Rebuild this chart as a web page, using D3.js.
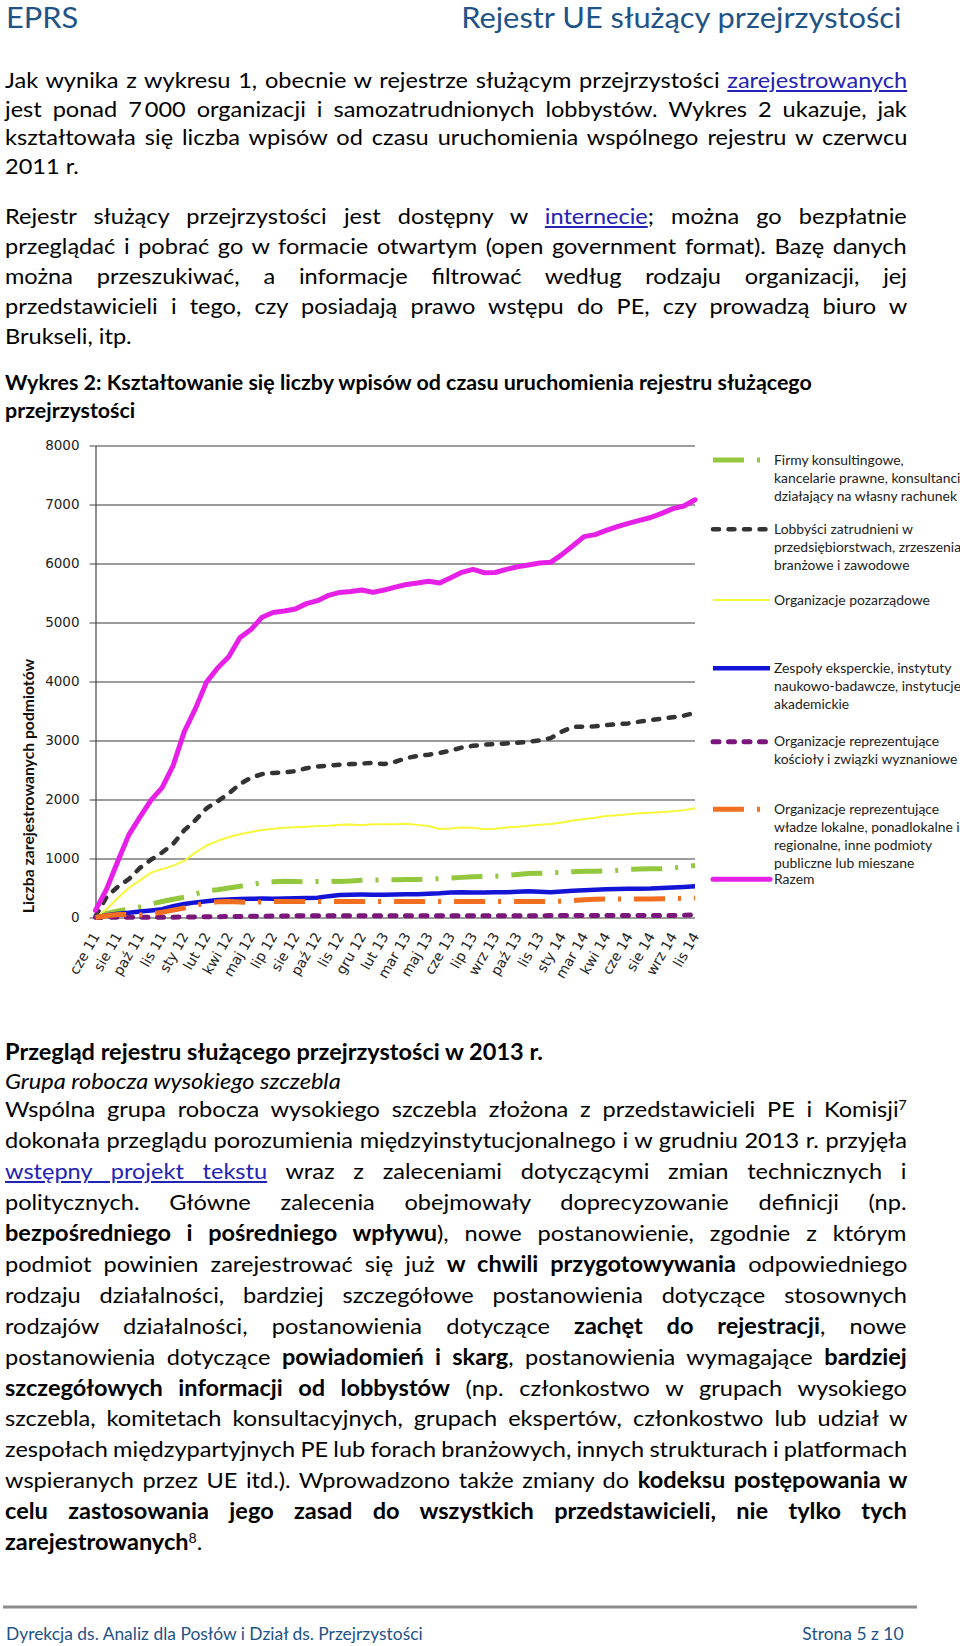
<!DOCTYPE html>
<html>
<head>
<meta charset="utf-8">
<script src="https://cdn.jsdelivr.net/npm/d3@7"></script>
<style>
  html, body { margin: 0; padding: 0; background: #fff; }
  #page { position: relative; width: 960px; height: 1646px; overflow: hidden;
          font-family: Lato, "Open Sans", sans-serif; color: #000; }
  #chart { position: absolute; left: 0; top: 0; }
  .ln { position: absolute; white-space: nowrap; line-height: 30px; }
  .ln > .inner { display: inline-block; transform-origin: 0 50%; }
  .ln a { color: #2323b4; text-decoration: underline; }
  .ln .sup { position: relative; top: -0.55em; font-size: 0.6em; }
  .bl { display: inline-block; width: 0; height: 0; vertical-align: baseline; }
</style>
</head>
<body>
<div id="page"></div>
<script>
// ---- chart data ----
const monthLabels = ["cze 11", "sie 11", "paź 11", "lis 11", "sty 12", "lut 12", "kwi 12",
  "maj 12", "lip 12", "sie 12", "paź 12", "lis 12", "gru 12", "lut 13", "mar 13", "maj 13",
  "cze 13", "lip 13", "wrz 13", "paź 13", "lis 13", "sty 14", "mar 14", "kwi 14", "cze 14",
  "sie 14", "wrz 14", "lis 14"];
const yTicks = [0, 1000, 2000, 3000, 4000, 5000, 6000, 7000, 8000];
const STEP = 0.5; // two samples per labelled month

const firmy = [0, 70, 110, 140, 180, 230, 270, 310, 345, 400, 450, 470, 500, 530, 560, 590,
  605, 615, 610, 605, 610, 615, 612, 620, 630, 635, 638, 640, 642, 645, 650, 660, 668, 680,
  690, 695, 700, 712, 730, 745, 750, 758, 765, 775, 785, 785, 790, 800, 815, 822, 825, 825,
  840, 860, 880];
const lobbysci = [20, 350, 520, 650, 840, 980, 1100, 1250, 1480, 1650, 1850, 1970, 2100, 2260,
  2370, 2430, 2450, 2460, 2480, 2530, 2560, 2575, 2590, 2600, 2610, 2620, 2600, 2640, 2700,
  2740, 2760, 2790, 2830, 2880, 2910, 2930, 2940, 2950, 2960, 2980, 3000, 3040, 3150, 3230,
  3235, 3240, 3260, 3275, 3290, 3320, 3345, 3370, 3395, 3420, 3470];
const pozarzadowe = [0, 140, 330, 500, 630, 760, 820, 880, 960, 1100, 1220, 1300, 1360, 1410,
  1450, 1485, 1505, 1520, 1530, 1540, 1550, 1555, 1570, 1575, 1565, 1580, 1580, 1580, 1590,
  1570, 1550, 1500, 1510, 1525, 1520, 1495, 1505, 1525, 1540, 1555, 1570, 1585, 1610, 1645,
  1665, 1690, 1720, 1735, 1750, 1765, 1775, 1790, 1800, 1820, 1850];
const zespoly = [0, 40, 65, 80, 100, 120, 140, 190, 230, 256, 275, 295, 305, 312, 318, 320,
  318, 322, 328, 332, 335, 362, 380, 386, 388, 386, 387, 390, 392, 396, 403, 410, 424, 428,
  425, 425, 426, 428, 435, 443, 437, 428, 440, 452, 460, 470, 480, 485, 487, 488, 490, 498,
  508, 518, 528];
const koscioly = [0, 3, 5, 5, 5, 5, 6, 6, 8, 10, 12, 14, 16, 18, 20, 22, 25, 27, 28, 30, 30,
  30, 30, 30, 30, 30, 30, 30, 30, 30, 30, 30, 30, 30, 30, 30, 30, 30, 30, 30, 30, 33, 33, 33,
  33, 33, 33, 33, 33, 33, 33, 33, 33, 40, 45];
const wladze = [0, 30, 50, 50, 45, 60, 90, 125, 160, 210, 240, 265, 270, 262, 258, 265, 272,
  272, 272, 270, 270, 272, 272, 272, 270, 270, 272, 272, 272, 272, 270, 270, 272, 272, 272,
  272, 270, 272, 272, 272, 272, 274, 275, 285, 300, 310, 312, 312, 312, 312, 312, 318, 322,
  326, 330];
const razem = [120, 480, 950, 1400, 1700, 1990, 2200, 2580, 3150, 3540, 3990, 4230, 4420, 4740,
  4880, 5090, 5170, 5195, 5230, 5320, 5370, 5460, 5510, 5525, 5550, 5510, 5550, 5600, 5645,
  5670, 5700, 5670, 5760, 5850, 5900, 5845, 5848, 5900, 5945, 5975, 6008, 6020, 6150, 6300,
  6455, 6490, 6560, 6625, 6680, 6730, 6780, 6850, 6930, 6975, 7080];

const seriesValues = [firmy, lobbysci, pozarzadowe, zespoly, koscioly, wladze, razem];
const legendLabels = [
  ["Firmy konsultingowe,", "kancelarie prawne, konsultanci", "działający na własny rachunek"],
  ["Lobbyści zatrudnieni w", "przedsiębiorstwach, zrzeszenia", "branżowe i zawodowe"],
  ["Organizacje pozarządowe"],
  ["Zespoły eksperckie, instytuty", "naukowo-badawcze, instytucje", "akademickie"],
  ["Organizacje reprezentujące", "kościoły i związki wyznaniowe"],
  ["Organizacje reprezentujące", "władze lokalne, ponadlokalne i", "regionalne, inne podmioty",
   "publiczne lub mieszane"],
  ["Razem"]
];
const yTitle = "Liczba zarejestrowanych podmiotów";

// ---- page text ----
const headerLeft = "EPRS";
const headerRight = "Rejestr UE służący przejrzystości";
const footerLeft = "Dyrekcja ds. Analiz dla Posłów i Dział ds. Przejrzystości";
const footerRight = "Strona 5 z 10";

const para1 = [
  ["Jak wynika z wykresu 1, obecnie w rejestrze służącym przejrzystości <a>zarejestrowanych</a>", true],
  ["jest ponad 7\u2009000 organizacji i samozatrudnionych lobbystów. Wykres 2 ukazuje, jak", true],
  ["kształtowała się liczba wpisów od czasu uruchomienia wspólnego rejestru w czerwcu", true],
  ["2011 r.", false]
];
const para2 = [
  ["Rejestr służący przejrzystości jest dostępny w <a>internecie</a>; można go bezpłatnie", true],
  ["przeglądać i pobrać go w formacie otwartym (open government format). Bazę danych", true],
  ["można przeszukiwać, a informacje filtrować według rodzaju organizacji, jej", true],
  ["przedstawicieli i tego, czy posiadają prawo wstępu do PE, czy prowadzą biuro w", true],
  ["Brukseli, itp.", false]
];
const chartHeading = [
  "Wykres 2: Kształtowanie się liczby wpisów od czasu uruchomienia rejestru służącego",
  "przejrzystości"
];
const section = [
  ["<b>Przegląd rejestru służącego przejrzystości w 2013 r.</b>", false],
  ["<i>Grupa robocza wysokiego szczebla</i>", false],
  ["Wspólna grupa robocza wysokiego szczebla złożona z przedstawicieli PE i Komisji<span class='sup'>7</span>", true],
  ["dokonała przeglądu porozumienia międzyinstytucjonalnego i w grudniu 2013 r. przyjęła", true],
  ["<a>wstępny projekt tekstu</a> wraz z zaleceniami dotyczącymi zmian technicznych i", true],
  ["politycznych. Główne zalecenia obejmowały doprecyzowanie definicji (np.", true],
  ["<b>bezpośredniego i pośredniego wpływu</b>), nowe postanowienie, zgodnie z którym", true],
  ["podmiot powinien zarejestrować się już <b>w chwili przygotowywania</b> odpowiedniego", true],
  ["rodzaju działalności, bardziej szczegółowe postanowienia dotyczące stosownych", true],
  ["rodzajów działalności, postanowienia dotyczące <b>zachęt do rejestracji</b>, nowe", true],
  ["postanowienia dotyczące <b>powiadomień i skarg</b>, postanowienia wymagające <b>bardziej</b>", true],
  ["<b>szczegółowych informacji od lobbystów</b> (np. członkostwo w grupach wysokiego", true],
  ["szczebla, komitetach konsultacyjnych, grupach ekspertów, członkostwo lub udział w", true],
  ["zespołach międzypartyjnych PE lub forach branżowych, innych strukturach i platformach", true],
  ["wspieranych przez UE itd.). Wprowadzono także zmiany do <b>kodeksu postępowania w</b>", true],
  ["<b>celu zastosowania jego zasad do wszystkich przedstawicieli, nie tylko tych</b>", true],
  ["<b>zarejestrowanych</b><span class='sup'>8</span>.", false]
];

const page = d3.select("#page");

// the document font is narrow (Calibri); stretch Lato to its width
const probe = page.append("span")
  .style("font", "bold 22px Lato").style("position", "absolute")
  .style("visibility", "hidden").style("white-space", "nowrap")
  .text("zarejestrowanych");
const k = 183 / probe.node().offsetWidth;
probe.remove();

// ---- chart ----
const svg = page.append("svg").attr("id", "chart").attr("width", 960).attr("height", 1646);

const x = d3.scaleLinear().domain([0, monthLabels.length - 1]).range([95.5, 695]);
const y = d3.scaleLinear().domain([0, 8000]).range([917.5, 445.5]);

// gridlines
svg.append("g")
  .attr("transform", "translate(95.5,0)")
  .call(d3.axisLeft(y).tickValues(yTicks).tickSize(-(695 - 95.5)).tickFormat(""))
  .call(g => g.select(".domain").remove())
  .call(g => g.selectAll("line").attr("stroke", "#3a3a3a").attr("stroke-width", 1.1));

// y axis with labels
svg.append("g")
  .attr("transform", "translate(95.5,0)")
  .call(d3.axisLeft(y).tickValues(yTicks).tickSize(6).tickSizeOuter(0).tickPadding(10).tickFormat(d3.format("d")))
  .call(g => g.select(".domain").attr("stroke", "#444").attr("stroke-width", 1.2))
  .call(g => g.selectAll("line").attr("stroke", "#444"))
  .call(g => g.selectAll("text")
    .attr("fill", "#222")
    .style("font-family", "'DejaVu Sans', Verdana, sans-serif")
    .style("font-size", "13.5px"));

// x axis labels
svg.append("g")
  .attr("transform", "translate(0,917.5)")
  .call(d3.axisBottom(x).tickValues(d3.range(monthLabels.length))
    .tickFormat(i => monthLabels[i]).tickSize(0))
  .call(g => g.select(".domain").remove())
  .call(g => g.selectAll("text")
    .attr("y", 0).attr("dy", "0.35em")
    .attr("transform", "translate(0,16) rotate(-60)")
    .attr("text-anchor", "end")
    .attr("fill", "#222")
    .style("font-family", "'DejaVu Sans', Verdana, sans-serif")
    .style("font-size", "14px"));

// y axis title
svg.append("text")
  .attr("transform", `translate(34,786) rotate(-90) scale(${k},1)`)
  .attr("text-anchor", "middle")
  .style("font-family", "Lato, sans-serif")
  .style("font-weight", "bold")
  .style("font-size", "14.7px")
  .attr("fill", "#111")
  .text(yTitle);

const seriesStyle = [
  { color: "#93c83e", width: 5, dash: "31,13,3,13", cap: "butt" },
  { color: "#333333", width: 4.5, dash: "6,9.5", cap: "round" },
  { color: "#f7f73a", width: 2, dash: null, cap: "butt" },
  { color: "#1414d6", width: 4.5, dash: null, cap: "butt" },
  { color: "#7b177b", width: 5, dash: "6,9.5", cap: "round" },
  { color: "#f26f21", width: 5, dash: "31,13,3,13", cap: "butt" },
  { color: "#e620e6", width: 5, dash: null, cap: "round" }
];

const line = d3.line()
  .x((d, i) => x(i * STEP))
  .y(d => y(d));

svg.append("g").selectAll("path")
  .data(seriesValues)
  .enter()
  .append("path")
  .attr("d", line)
  .attr("fill", "none")
  .attr("stroke", (d, i) => seriesStyle[i].color)
  .attr("stroke-width", (d, i) => seriesStyle[i].width)
  .attr("stroke-dasharray", (d, i) => seriesStyle[i].dash)
  .attr("stroke-linecap", (d, i) => seriesStyle[i].cap)
  .attr("stroke-linejoin", "round");

// legend
const legendTop = [460, 529.3, 600, 668.3, 741.7, 809.3, 879.3];
const legend = svg.append("g").selectAll("g")
  .data(legendLabels)
  .enter()
  .append("g")
  .attr("transform", (d, i) => `translate(0,${legendTop[i]})`);

legend.append("line")
  .attr("x1", 713).attr("x2", 770).attr("y1", 0).attr("y2", 0)
  .attr("stroke", (d, i) => seriesStyle[i].color)
  .attr("stroke-width", (d, i) => seriesStyle[i].width)
  .attr("stroke-dasharray", (d, i) => seriesStyle[i].dash)
  .attr("stroke-linecap", (d, i) => seriesStyle[i].cap);

legend.selectAll("text")
  .data(d => d)
  .enter()
  .append("text")
  .attr("transform", (d, j) => `translate(774,${4.5 + j * 18.2}) scale(${k},1)`)
  .style("font-family", "Lato, sans-serif")
  .style("font-size", "13px")
  .attr("fill", "#222")
  .text(d => d);

// ---- text lines ----
function addLine(html, opts) {
  const div = page.append("div").attr("class", "ln")
    .style("font-size", opts.size + "px")
    .style("font-weight", opts.bold ? "bold" : "normal")
    .style("color", opts.color || "#000");
  const inner = div.append("span").attr("class", "inner").html(html);
  inner.append("span").attr("class", "bl");
  const node = inner.node();
  const w = node.offsetWidth;
  const base = inner.select(".bl").node().offsetTop;
  if (opts.align === "justify") {
    const n = (node.textContent.match(/ /g) || []).length;
    if (n > 0) inner.style("word-spacing", ((opts.x2 - opts.x) / k - w) / n + "px");
    div.style("left", opts.x + "px");
  } else if (opts.align === "right") {
    inner.style("transform-origin", "100% 50%");
    div.style("left", (opts.x2 - w) + "px");
  } else {
    div.style("left", opts.x + "px");
  }
  inner.style("transform", `scaleX(${k})`);
  div.style("top", (opts.baseline - base) + "px");
}

const LEFT = 5, RIGHT = 907;

addLine(headerLeft, { size: 28.8, color: "#1f5387", x: 6, baseline: 28, align: "left" });
addLine(headerRight, { size: 28.8, color: "#1f5387", x2: 901, baseline: 28, align: "right" });

const para1Base = [88, 117, 145, 174];
para1.forEach((l, i) => addLine(l[0], { size: 22, x: LEFT, x2: RIGHT, baseline: para1Base[i],
  align: l[1] ? "justify" : "left" }));

const para2Base = [224, 254, 284, 314, 344];
para2.forEach((l, i) => addLine(l[0], { size: 22, x: LEFT, x2: RIGHT, baseline: para2Base[i],
  align: l[1] ? "justify" : "left" }));

const headBase = [390, 418];
chartHeading.forEach((l, i) => addLine(l, { size: 20, bold: true, x: LEFT, baseline: headBase[i],
  align: "left" }));

const sectionBase = [1060, 1089, 1117, 1148, 1179, 1210, 1241, 1272, 1303, 1334, 1365, 1396,
  1426, 1457, 1488, 1519, 1550];
section.forEach((l, i) => addLine(l[0], { size: 22, x: LEFT, x2: RIGHT, baseline: sectionBase[i],
  align: l[1] ? "justify" : "left" }));

// footer
svg.append("line")
  .attr("x1", 3).attr("x2", 917).attr("y1", 1607).attr("y2", 1607)
  .attr("stroke", "#8c8c8c").attr("stroke-width", 3);
addLine(footerLeft, { size: 16.3, color: "#1f5387", x: 6, baseline: 1639.5, align: "left" });
addLine(footerRight, { size: 16.3, color: "#1f5387", x2: 904, baseline: 1639.5, align: "right" });
</script>
</body>
</html>
